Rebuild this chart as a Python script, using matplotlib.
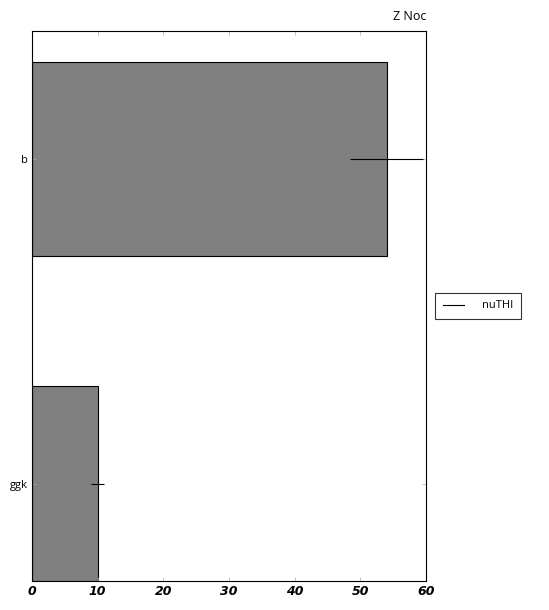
import matplotlib
matplotlib.use('Agg')
import matplotlib.pyplot as plt
from matplotlib.lines import Line2D

categories = ['ggk', 'b']
values = [10, 54]
errors = [1.0, 5.6]
series_label = 'nuTHI'
title = 'Z Noc'
xticks = [0, 10, 20, 30, 40, 50, 60]

plt.rcParams['font.family'] = ['Open Sans', 'DejaVu Sans']

fig = plt.figure(figsize=(5.49, 6.10), dpi=100)
ax = fig.add_axes([32/549, 29/610, 394/549, 550/610])

pos = list(range(len(categories)))
ax.barh(pos, values, height=0.6, color='#808080', edgecolor='black', linewidth=0.8)
ax.errorbar(values, pos, xerr=errors, fmt='none', ecolor='black', elinewidth=0.8,
            capsize=0)

ax.set_xlim(0, 60)
ax.set_ylim(-0.3, 1.394)
ax.set_yticks(pos)
ax.set_yticklabels(categories, fontsize=8)
ax.set_xticks(xticks)
ax.set_xticklabels([str(t) for t in xticks], fontsize=9, style='italic',
                   family='DejaVu Sans', fontweight='semibold')
ax.tick_params(direction='in', length=3, width=0.5, color='#aaaaaa',
               top=True, right=True, pad=3)
for s in ax.spines.values():
    s.set_linewidth(0.8)

ax.set_title(title, loc='right', fontsize=9, pad=8)
handle = Line2D([], [], color='black', linewidth=0.8)
leg = ax.legend([handle], [series_label], loc='center left',
                bbox_to_anchor=(1.01, 0.5), fontsize=8,
                frameon=True, fancybox=False, edgecolor='black', borderpad=0.7,
                handlelength=1.9, handletextpad=1.6)
leg.get_frame().set_linewidth(0.8)

fig.savefig('out.png', dpi=100)
